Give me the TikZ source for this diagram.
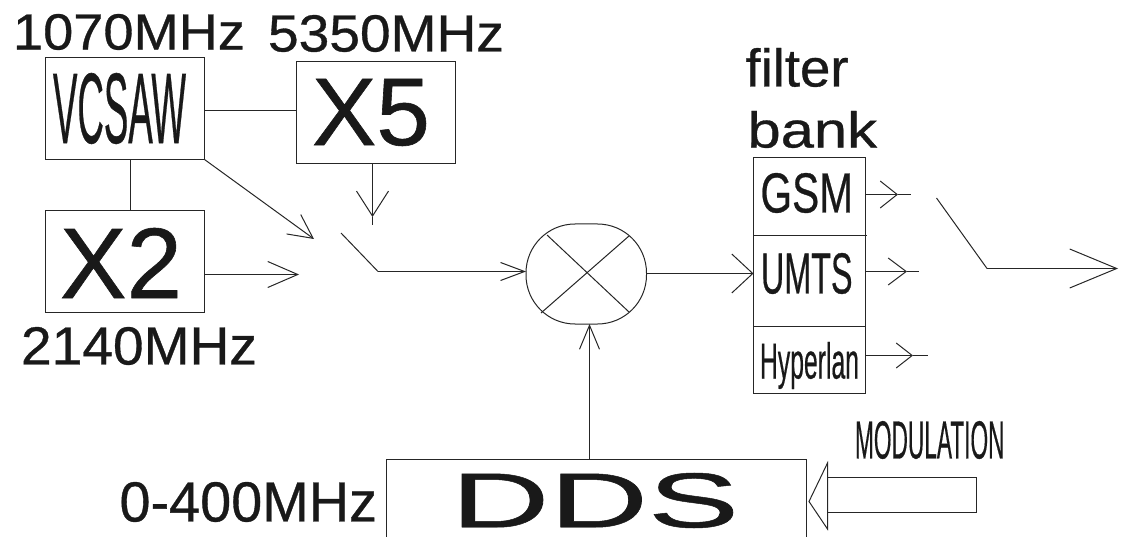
\documentclass[tikz,border=0pt]{standalone}
\usepackage{fontspec}
\usepackage{graphicx}
\setmainfont{Liberation Sans}[FakeBold=0.6]
\usetikzlibrary{arrows.meta}
\newcommand{\pxbox}[5]{% name, x1,y1,x2,y2
  \pgfmathsetmacro{\bw}{#4-#2}\pgfmathsetmacro{\bh}{#5-#3}
  \pgfmathsetmacro{\bx}{(#2+#4)/2}\pgfmathsetmacro{\by}{(#3+#5)/2}
  \node[blockbox,minimum width=\bw pt,minimum height=\bh pt] (#1) at (\bx,\by) {};}
\newcommand{\pxlabel}[6]{% name, x1,y1,x2,y2,text
  \pgfmathsetmacro{\bw}{#4-#2}\pgfmathsetmacro{\bh}{#5-#3}
  \pgfmathsetmacro{\bx}{(#2+#4)/2}\pgfmathsetmacro{\by}{(#3+#5)/2}
  \node[fitlabel] (#1) at (\bx,\by) {\resizebox*{\bw pt}{\bh pt}{#6}};}
\tikzset{
  blockbox/.style={draw=black!85,line width=1pt,rectangle,inner sep=0pt,outer sep=0pt},
  fitlabel/.style={inner sep=0pt,outer sep=0pt,text=black!90},
  wire/.style={draw=black!85,line width=1pt},
  tipped/.style n args={2}{wire,-{Straight Barb[length=#1pt,width=#2pt]}},
}
\begin{document}
\begin{tikzpicture}[x=1pt,y=-1pt]
\useasboundingbox (0,0) rectangle (1121,537);
% boxes
\pxbox{vcsaw}{45.5}{57.5}{204.5}{159.5}
\pxbox{xfive}{296.5}{61.5}{455.5}{163.5}
\pxbox{xtwo}{45.5}{210.5}{204.5}{312.5}
\pxbox{filterbox}{753.5}{157.5}{865.5}{393.5}
\node[wire,rectangle,rounded corners=49pt,minimum width=120.5pt,minimum height=100pt,inner sep=0pt,outer sep=0pt,draw] (mixer) at (586.25,274) {};
\node[inner sep=0pt,outer sep=0pt,minimum width=420.5pt,minimum height=76pt] (dds) at (596.25,497) {};
\coordinate (ddsl) at (386,537); \coordinate (ddsr) at (806.5,537);
\draw[wire] (ddsl) -- (dds.north west) -- (dds.north east) -- (ddsr);
\draw[wire] (753.5,235.5) -- (867,235.5);
\draw[wire] (753.5,326.5) -- (865.5,326.5);
% labels
\pxlabel{lbla}{13}{14}{245}{50}{1070MHz}
\pxlabel{lblb}{268}{15}{504}{52}{5350MHz}
\pxlabel{lblc}{21}{327}{257}{365}{2140MHz}
\pxlabel{lblv}{53}{73}{186}{144}{VCSAW}
\pxlabel{lblx}{312}{79}{430}{146}{X5}
\pxlabel{lbly}{60}{228}{182}{298}{X2}
\pxlabel{lblf}{745.5}{48}{848.5}{87}{filter}
\pxlabel{lblk}{747.5}{111}{877}{148}{bank}
\pxlabel{lblg}{760.5}{173}{853}{213}{GSM}
\pxlabel{lblu}{761}{253}{852.5}{294}{UMTS}
\pxlabel{lblh}{760}{342}{859}{389}{Hyperlan}
\pxlabel{lbld}{451}{473}{739}{528}{DDS}
\pxlabel{lblz}{119.5}{482}{377}{522}{0-400MHz}
\pxlabel{lblm}{855}{421}{1004.5}{459}{MODULATION}
% mixer cross
\coordinate (mixa) at (547,235); \coordinate (mixb) at (629,312);
\coordinate (mixc) at (629,236); \coordinate (mixd) at (541,313);
\draw[wire] (mixa) -- (mixb);
\draw[wire] (mixc) -- (mixd);
% plain connections
\draw[wire] (vcsaw.east |- 0,110.5) -- (xfive.west |- 0,110.5);
\draw[wire] (vcsaw.south -| 130.5,0) -- (xtwo.north -| 130.5,0);
% inputs to the first switch
\coordinate (tipv) at (314,239);
\draw[tipped={24}{24}] (vcsaw.south east) -- (tipv);
\coordinate (tipt) at (299,274.5);
\draw[tipped={30}{26}] (xtwo.east |- tipt) -- (tipt);
\coordinate (tipf) at (372.5,217); \coordinate (endf) at (372.5,225);
\draw[tipped={25}{32}] (xfive.south -| tipf) -- (tipf);
\draw[wire] (tipf) -- (endf);
% first switch to mixer
\coordinate (swa) at (341,233); \coordinate (swb) at (378,271.5);
\draw[wire] (swa) -- (swb);
\draw[tipped={24}{18}] (swb) -- (mixer.west |- swb);
% mixer to filter bank
\coordinate (mixout) at (646.5,273.5);
\draw[tipped={21}{39}] (mixer.east |- mixout) -- (filterbox.west |- mixout);
% filter outputs
\coordinate (tipg) at (898,194.5); \coordinate (endg) at (911,194.5);
\draw[tipped={17}{27}] (filterbox.east |- tipg) -- (tipg);
\draw[wire] (tipg) -- (endg);
\coordinate (tipu) at (907,271.5); \coordinate (endu) at (919,271.5);
\draw[tipped={18}{27}] (filterbox.east |- tipu) -- (tipu);
\draw[wire] (tipu) -- (endu);
\coordinate (tiph) at (913,355.5); \coordinate (endh) at (928,355.5);
\draw[tipped={16}{25}] (filterbox.east |- tiph) -- (tiph);
\draw[wire] (tiph) -- (endh);
% output switch
\coordinate (swc) at (936.5,198); \coordinate (swd) at (987,268.5); \coordinate (outt) at (1118,268.5);
\draw[wire] (swc) -- (swd);
\draw[tipped={47}{39}] (swd) -- (outt);
% DDS to mixer
\coordinate (ddsx) at (589.5,0);
\draw[tipped={24}{20}] (dds.north -| ddsx) -- (mixer.south -| ddsx);
% modulation arrow
\coordinate (mt) at (809,501.5); \coordinate (ma) at (827.5,463); \coordinate (mb) at (827.5,529);
\coordinate (mc) at (827.5,477.5); \coordinate (md) at (976.5,477.5); \coordinate (me) at (976.5,512.5); \coordinate (mf) at (827.5,512.5);
\draw[wire] (mt) -- (ma) -- (mb) -- cycle;
\draw[wire] (mc) -- (md) -- (me) -- (mf);
\end{tikzpicture}
\end{document}
